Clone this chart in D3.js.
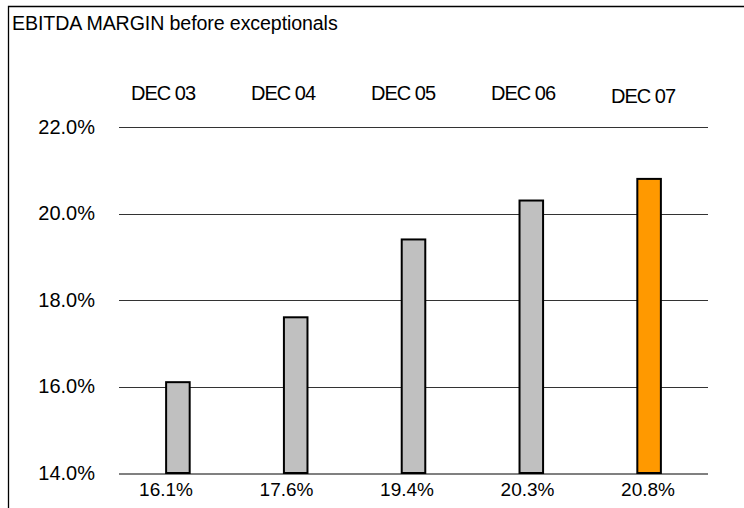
<!DOCTYPE html>
<html>
<head>
<meta charset="utf-8">
<script src="https://cdn.jsdelivr.net/npm/d3@7"></script>
<style>
  html, body { margin: 0; padding: 0; background: #fff; }
  svg { display: block; }
  text { font-family: Arial, "Liberation Sans", sans-serif; fill: #000; }
</style>
</head>
<body>
<svg id="chart" width="744" height="508"></svg>
<script>
// EBITDA margin before exceptionals, by financial year end
const periods = ["DEC 03", "DEC 04", "DEC 05", "DEC 06", "DEC 07"];
const margins = [16.1, 17.6, 19.4, 20.3, 20.8];
const highlighted = [false, false, false, false, true];
const yTicks = [14, 16, 18, 20, 22];
const title = "EBITDA MARGIN before exceptionals";

const svg = d3.select("#chart");
const W = 744, H = 508;
const plot = { left: 119, right: 708, top: 127, bottom: 473 };

const x = d3.scaleBand()
  .domain(periods)
  .range([plot.left, plot.right]);

const y = d3.scaleLinear()
  .domain([14, 22])
  .range([plot.bottom, plot.top]);

// Label rows sit on their own point scales, slightly left of the bars
const xPeriodLabel = d3.scalePoint().domain(periods).range([163, 643]);
const xValueLabel = d3.scalePoint().domain(periods).range([166, 648]);

// Frame around the chart area
svg.append("path")
  .attr("d", `M8.5,${H + 2} V6.5 H${W + 2}`)
  .attr("fill", "none")
  .attr("stroke", "#000")
  .attr("stroke-width", 1.3);

svg.append("text")
  .attr("x", 12)
  .attr("y", 30)
  .attr("font-size", 19.6)
  .attr("letter-spacing", -0.1)
  .text(title);

// Horizontal gridlines via a left axis with full-width ticks
const yAxis = d3.axisLeft(y)
  .tickValues(yTicks)
  .tickSize(-(plot.right - plot.left))
  .tickFormat(d => d3.format(".1f")(d) + "%");

const gAxis = svg.append("g")
  .attr("transform", `translate(${plot.left},0)`)
  .call(yAxis);
gAxis.select(".domain").remove();
gAxis.selectAll(".tick line")
  .attr("stroke", d => d === 14 ? "#808080" : "#333")
  .attr("stroke-width", d => d === 14 ? 2 : 1)
  .attr("shape-rendering", "crispEdges");
gAxis.selectAll(".tick text")
  .attr("x", -24)
  .attr("dy", 6)
  .attr("font-size", 20)
  .attr("font-family", "Arial, 'Liberation Sans', sans-serif")
  .attr("fill", "#000");

// Bars
const barW = x.bandwidth() * 0.2;
svg.append("g")
  .selectAll("rect")
  .data(periods)
  .join("rect")
  .attr("x", d => x(d) + x.bandwidth() / 2 - barW / 2)
  .attr("y", (d, i) => y(margins[i]))
  .attr("width", barW)
  .attr("height", (d, i) => y(14) - y(margins[i]))
  .attr("fill", (d, i) => highlighted[i] ? "#ff9900" : "#c0c0c0")
  .attr("stroke", "#000")
  .attr("stroke-width", 2);

// Period headings above the plot
svg.append("g")
  .selectAll("text")
  .data(periods)
  .join("text")
  .attr("x", d => xPeriodLabel(d))
  .attr("y", (d, i) => highlighted[i] ? 103 : 100)
  .attr("text-anchor", "middle")
  .attr("font-size", 20)
  .attr("letter-spacing", -1)
  .text(d => d);

// Margin values under each bar
svg.append("g")
  .selectAll("text")
  .data(periods)
  .join("text")
  .attr("x", d => xValueLabel(d))
  .attr("y", 496)
  .attr("text-anchor", "middle")
  .attr("font-size", 19)
  .text((d, i) => d3.format(".1f")(margins[i]) + "%");
</script>
</body>
</html>
